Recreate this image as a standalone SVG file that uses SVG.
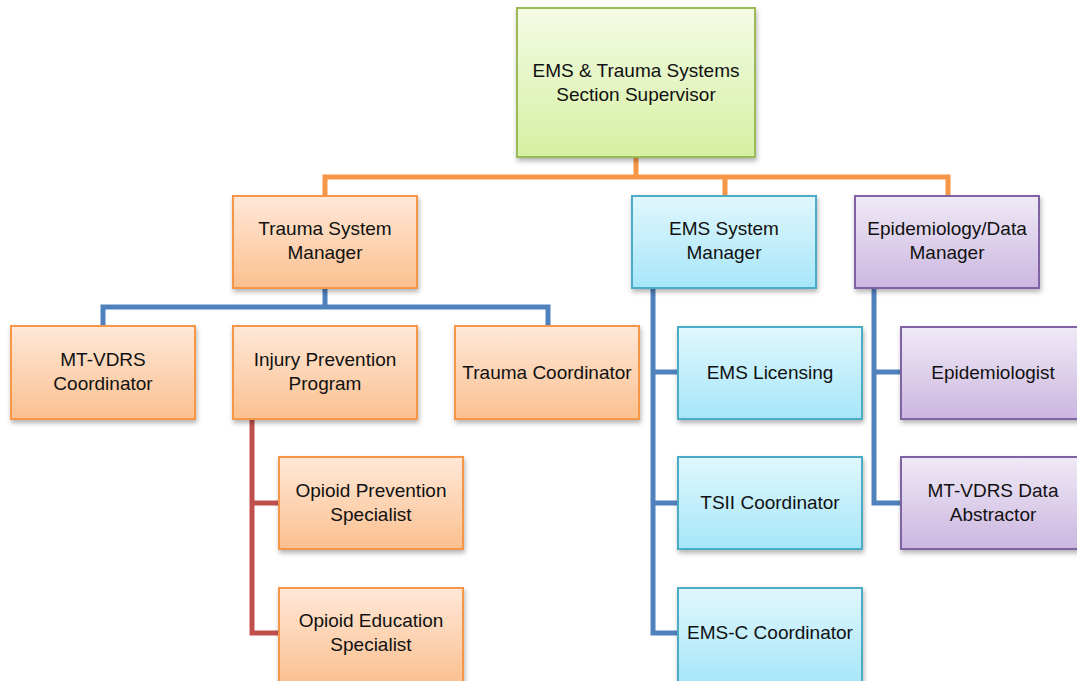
<svg xmlns="http://www.w3.org/2000/svg" width="1077" height="681" viewBox="0 0 1077 681">
<defs>
<linearGradient id="gGreen" x1="0" y1="0" x2="0" y2="1"><stop offset="0" stop-color="#F4FBE6"/><stop offset="1" stop-color="#D6F0A2"/></linearGradient>
<linearGradient id="gOrange" x1="0" y1="0" x2="0" y2="1"><stop offset="0" stop-color="#FFE8D8"/><stop offset="1" stop-color="#FBC08F"/></linearGradient>
<linearGradient id="gBlue" x1="0" y1="0" x2="0" y2="1"><stop offset="0" stop-color="#E0F7FD"/><stop offset="1" stop-color="#A6E6F9"/></linearGradient>
<linearGradient id="gPurple" x1="0" y1="0" x2="0" y2="1"><stop offset="0" stop-color="#F0EAF6"/><stop offset="1" stop-color="#CBB6E0"/></linearGradient>
<filter id="sh" x="-10%" y="-10%" width="125%" height="130%"><feDropShadow dx="1" dy="3" stdDeviation="2.5" flood-color="#000" flood-opacity="0.3"/></filter>
</defs>
<style>
.box{stroke-width:2;filter:url(#sh)}
.g{fill:url(#gGreen);stroke:#9BBB59}
.o{fill:url(#gOrange);stroke:#F79646}
.b{fill:url(#gBlue);stroke:#4BACC6}
.p{fill:url(#gPurple);stroke:#8064A2}
text{font-family:"Liberation Sans",Arial,sans-serif;font-size:19px;fill:#111;text-anchor:middle}
.c{fill:none;stroke-width:5;stroke-linejoin:miter}
.co{stroke:#F79646}
.cb{stroke:#4F81BD}
.cr{stroke:#C0504D}
</style>
<g id="connectors">
<path class="c co" d="M636 157V177M325 196V177H948V196M725 177V196"/>
<path class="c cb" d="M325 288V307M103 326V307H548V326"/>
<path class="c cr" d="M252 419V633H280M252 503H280"/>
<path class="c cb" d="M653 288V633H678M653 372H678M653 503H678"/>
<path class="c cb" d="M874 288V503H901M874 372H901"/>
</g>
<g id="supervisor"><rect class="box g" x="517" y="8" width="238" height="149"/><text x="636" y="77">EMS &amp; Trauma Systems</text><text x="636" y="101">Section Supervisor</text></g>
<g id="trauma-system-manager"><rect class="box o" x="233" y="196" width="184" height="92"/><text x="325" y="235">Trauma System</text><text x="325" y="259">Manager</text></g>
<g id="ems-system-manager"><rect class="box b" x="632" y="196" width="184" height="92"/><text x="724" y="235">EMS System</text><text x="724" y="259">Manager</text></g>
<g id="epidemiology-manager"><rect class="box p" x="855" y="196" width="184" height="92"/><text x="947" y="235">Epidemiology/Data</text><text x="947" y="259">Manager</text></g>
<g id="mt-vdrs-coordinator"><rect class="box o" x="11" y="326" width="184" height="93"/><text x="103" y="366">MT-VDRS</text><text x="103" y="390">Coordinator</text></g>
<g id="injury-prevention"><rect class="box o" x="233" y="326" width="184" height="93"/><text x="325" y="366">Injury Prevention</text><text x="325" y="390">Program</text></g>
<g id="trauma-coordinator"><rect class="box o" x="455" y="326" width="184" height="93"/><text x="547" y="379">Trauma Coordinator</text></g>
<g id="opioid-prevention"><rect class="box o" x="279" y="457" width="184" height="92"/><text x="371" y="497">Opioid Prevention</text><text x="371" y="521">Specialist</text></g>
<g id="opioid-education"><rect class="box o" x="279" y="588" width="184" height="96"/><text x="371" y="627">Opioid Education</text><text x="371" y="651">Specialist</text></g>
<g id="ems-licensing"><rect class="box b" x="678" y="327" width="184" height="92"/><text x="770" y="379">EMS Licensing</text></g>
<g id="tsii-coordinator"><rect class="box b" x="678" y="457" width="184" height="92"/><text x="770" y="509">TSII Coordinator</text></g>
<g id="ems-c-coordinator"><rect class="box b" x="678" y="588" width="184" height="96"/><text x="770" y="639">EMS-C Coordinator</text></g>
<g id="epidemiologist"><rect class="box p" x="901" y="327" width="184" height="92"/><text x="993" y="379">Epidemiologist</text></g>
<g id="mt-vdrs-data-abstractor"><rect class="box p" x="901" y="457" width="184" height="92"/><text x="993" y="497">MT-VDRS Data</text><text x="993" y="521">Abstractor</text></g>
</svg>
